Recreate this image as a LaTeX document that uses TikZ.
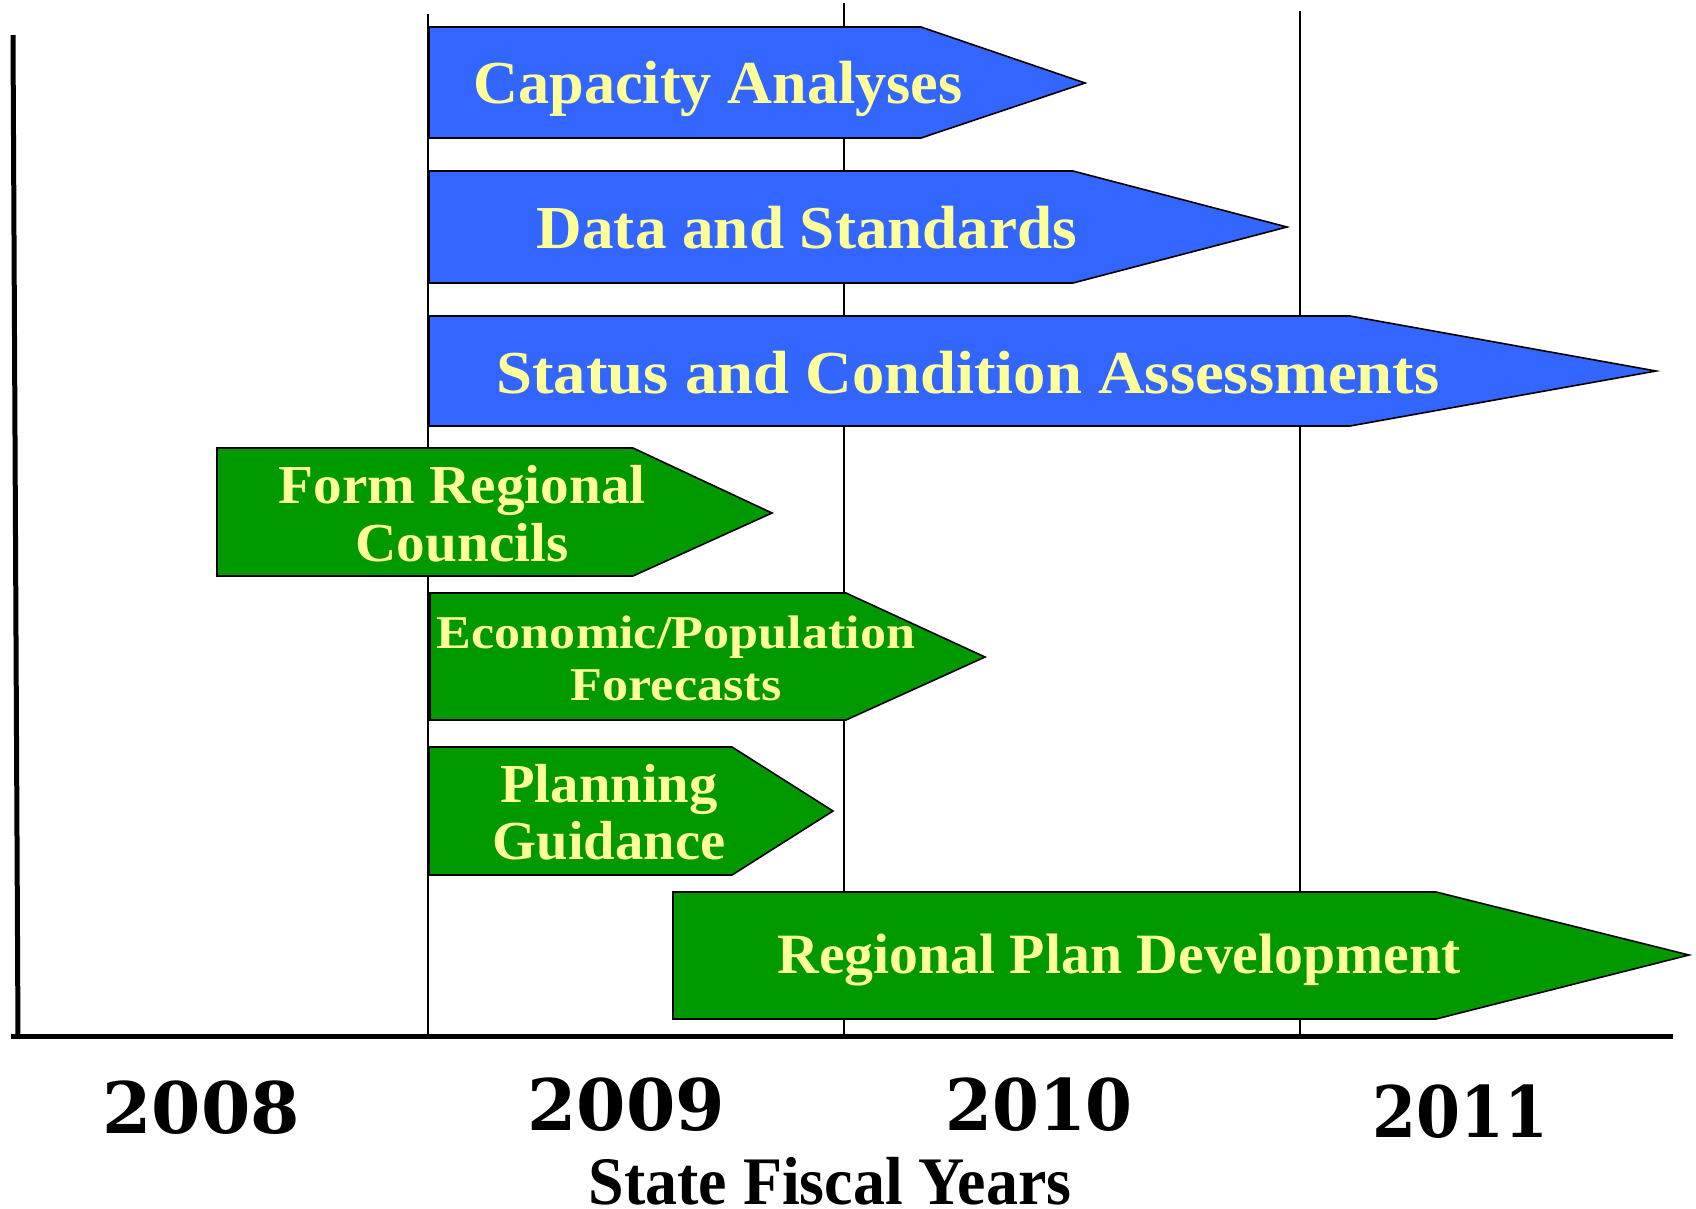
\documentclass[tikz,border=0pt]{standalone}
\usepackage{fontspec}
\setmainfont{Liberation Serif}
\newfontfamily\yearfont{DejaVu Serif}
\definecolor{barblue}{HTML}{3366FF}
\definecolor{bargreen}{HTML}{009900}
\definecolor{txtyellow}{HTML}{FFFF99}
\begin{document}
\begin{tikzpicture}[x=1pt,y=-1pt,
  bar/.style={draw=black, line width=1.6pt, line join=miter},
  bluebar/.style={bar, fill=barblue},
  greenbar/.style={bar, fill=bargreen},
  grid/.style={draw=black, line width=1.3pt},
  axis/.style={draw=black, line width=5pt},
  lbl/.style={text=txtyellow, align=center, inner sep=0pt},
  yearlbl/.style={text=black, inner sep=0pt, font=\yearfont\bfseries\fontsize{71}{80}\selectfont}
]
\useasboundingbox (0,0) rectangle (1696,1208);
% grid lines
\draw[grid] (428,14) -- (428,1034);
\draw[grid] (844,3) -- (844,1034);
\draw[grid] (1300,11) -- (1300,1034);
% axes
\draw[axis] (13,35) -- (18,1036);
\draw[axis] (11,1036) -- (1673,1036);
% bars
\draw[bluebar] (429,27) -- (921,27) -- (1085,83) -- (921,138) -- (429,138) -- cycle;
\draw[bluebar] (429,171) -- (1073,171) -- (1287,227) -- (1073,283) -- (429,283) -- cycle;
\draw[bluebar] (429,316) -- (1350,316) -- (1656,371) -- (1350,426) -- (429,426) -- cycle;
\draw[greenbar] (217,448) -- (633,448) -- (772,513) -- (633,576) -- (217,576) -- cycle;
\draw[greenbar] (430,593) -- (846,593) -- (985,657) -- (846,720) -- (430,720) -- cycle;
\draw[greenbar] (429,747) -- (732,747) -- (833,811) -- (732,875) -- (429,875) -- cycle;
\draw[greenbar] (673,892) -- (1436,892) -- (1689,955) -- (1436,1019) -- (673,1019) -- cycle;
% labels
\node[lbl, font=\bfseries\fontsize{61}{66}\selectfont] (cap) at (718,89) {\scalebox{1.02}[1]{Capacity Analyses}};
\node[lbl, font=\bfseries\fontsize{61}{66}\selectfont] (data) at (807,228) {\scalebox{1.035}[1]{Data and Standards}};
\node[lbl, font=\bfseries\fontsize{61}{66}\selectfont] (stat) at (968,373) {\scalebox{1.06}[1]{Status and Condition Assessments}};
\node[lbl, font=\bfseries\fontsize{55}{58}\selectfont] (form) at (462,514) {\scalebox{1.04}[1]{Form Regional}\\\scalebox{1.04}[1]{Councils}};
\node[lbl, font=\bfseries\fontsize{47}{52}\selectfont] (econ) at (676,658) {\scalebox{1.11}[1]{Economic/Population}\\\scalebox{1.11}[1]{Forecasts}};
\node[lbl, font=\bfseries\fontsize{55}{57}\selectfont] (plan) at (609,812) {\scalebox{1.03}[1]{Planning}\\\scalebox{1.03}[1]{Guidance}};
\node[lbl, font=\bfseries\fontsize{57}{60}\selectfont] (reg) at (1119,960) {\scalebox{1.013}[1]{Regional Plan Development}};
% years
\node[yearlbl] (y8) at (201,1108) {2008};
\node[yearlbl] (y9) at (626,1105) {2009};
\node[yearlbl] (y10) at (1039,1105) {\scalebox{0.95}[1]{2010}};
\node[yearlbl] (y11) at (1460,1112) {\scalebox{0.89}[1]{2011}};
\node[inner sep=0pt, font=\bfseries\fontsize{68}{72}\selectfont] (sfy) at (830,1181) {\scalebox{0.94}[1]{State Fiscal Years}};
\end{tikzpicture}
\end{document}
